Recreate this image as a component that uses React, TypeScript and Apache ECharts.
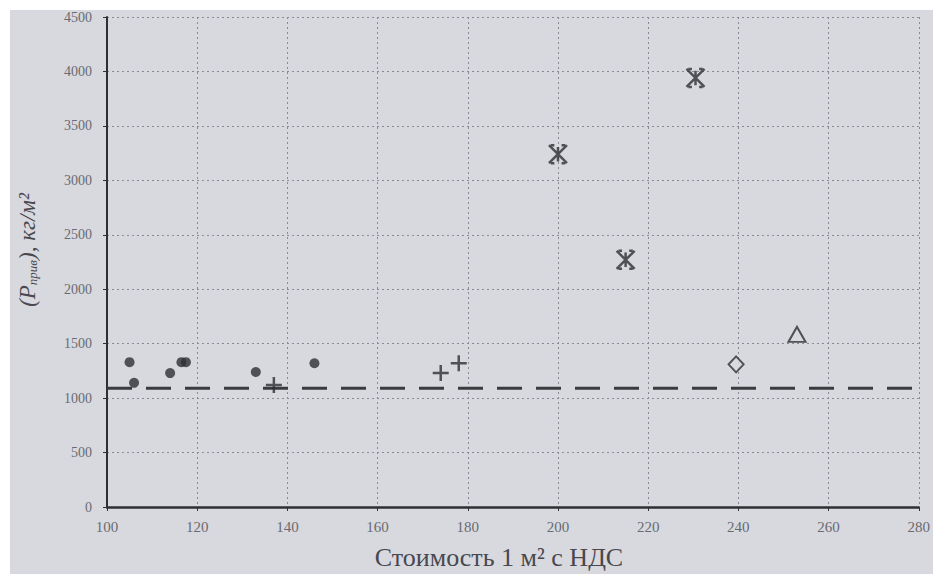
import React, { useEffect, useRef } from "react";
import * as echarts from "echarts";

const xTicks = [100, 120, 140, 160, 180, 200, 220, 240, 260, 280];
const yTicks = [0, 500, 1000, 1500, 2000, 2500, 3000, 3500, 4000, 4500];

const dotX = [105, 106, 114, 116.5, 117.5, 133, 146];
const dotY = [1330, 1140, 1230, 1330, 1330, 1240, 1320];
const plusX = [137, 174, 178];
const plusY = [1120, 1230, 1320];
const starX = [200, 215, 230.5];
const starY = [3240, 2270, 3940];
const diamondX = [239.5];
const diamondY = [1310];
const triangleX = [253];
const triangleY = [1585];
const thresholdX = [100, 280];
const thresholdY = 1090;

const ink = "#2e2e33";
const serif = "Liberation Serif";
const bg = "#d8d9de";

const pairs = (xs: number[], ys: number[]) => xs.map((x, i) => [x, ys[i]]);

export default function App() {
  const ref = useRef<HTMLDivElement>(null);
  useEffect(() => {
    const chart = echarts.init(ref.current!, null, { renderer: "svg" });
    chart.setOption({
      animation: false,
      backgroundColor: "#ffffff",
      graphic: [
        {
          type: "rect",
          shape: { x: 10, y: 10, width: 923, height: 564 },
          style: { fill: bg },
          z: -10,
          silent: true,
        },
        {
          type: "text",
          x: 499,
          y: 557,
          style: {
            text: "Стоимость 1 м² с НДС",
            font: `26px '${serif}'`,
            fill: "#48484e",
            align: "center",
            verticalAlign: "middle",
          },
        },
        {
          type: "text",
          x: 27,
          y: 250,
          rotation: Math.PI / 2,
          style: {
            text: "{a|(P}{s|прив}{a|), кг/м²}",
            align: "center",
            verticalAlign: "middle",
            rich: {
              a: { font: `italic 23px '${serif}'`, fill: "#48484e" },
              s: { font: `italic 13px '${serif}'`, fill: "#48484e", padding: [10, 0, 0, 0] },
            },
          },
        },
      ],
      grid: { left: 107, right: 13, top: 17, bottom: 67 },
      xAxis: {
        type: "value",
        min: 100,
        max: 280,
        interval: 20,
        axisLine: { show: true, lineStyle: { color: ink, width: 2.5 } },
        axisTick: { show: true, length: 4, lineStyle: { color: ink } },
        axisLabel: {
          margin: 12,
          color: "#6a6a72",
          fontFamily: serif,
          fontSize: 15,
          formatter: (v: number) => (xTicks.includes(v) ? String(v) : ""),
        },
        splitLine: { show: true, lineStyle: { color: "#8a8a92", type: [2, 3], width: 1 } },
      },
      yAxis: {
        type: "value",
        min: 0,
        max: 4500,
        interval: 500,
        axisLine: { show: true, lineStyle: { color: ink, width: 2 } },
        axisTick: { show: true, length: 4, lineStyle: { color: ink } },
        axisLabel: {
          margin: 15,
          color: "#6a6a72",
          fontFamily: serif,
          fontSize: 14,
          formatter: (v: number) => (yTicks.includes(v) ? String(v) : ""),
        },
        splitLine: { show: true, lineStyle: { color: "#8a8a92", type: [2, 3], width: 1 } },
      },
      series: [
        {
          type: "line",
          data: thresholdX.map((x) => [x, thresholdY]),
          symbol: "none",
          lineStyle: { color: "#3a3a40", width: 3, type: [25, 14] },
          z: 1,
        },
        {
          type: "scatter",
          data: pairs(dotX, dotY),
          symbol: "circle",
          symbolSize: 10,
          itemStyle: { color: ink },
        },
        {
          type: "scatter",
          data: pairs(plusX, plusY),
          symbol: "path://M5 0L5 10M0 5L10 5",
          symbolSize: 16,
          itemStyle: { color: "none", borderColor: ink, borderWidth: 2.5 },
        },
        {
          type: "scatter",
          data: pairs(starX, starY),
          symbol: "path://M0 0L10 10M10 0L0 10M5 1L5 9M1 0L3 0M7 0L9 0M1 10L3 10M7 10L9 10",
          symbolSize: 18,
          itemStyle: { color: "none", borderColor: ink, borderWidth: 2.5 },
        },
        {
          type: "scatter",
          data: pairs(diamondX, diamondY),
          symbol: "diamond",
          symbolSize: [15, 16],
          itemStyle: { color: bg, borderColor: ink, borderWidth: 2 },
        },
        {
          type: "scatter",
          data: pairs(triangleX, triangleY),
          symbol: "triangle",
          symbolSize: [17, 15],
          itemStyle: { color: bg, borderColor: ink, borderWidth: 2 },
        },
      ],
    });
    return () => chart.dispose();
  }, []);
  return (
    <div
      ref={ref}
      style={{ position: "absolute", left: 0, top: 0, width: 933, height: 574 }}
    />
  );
}
